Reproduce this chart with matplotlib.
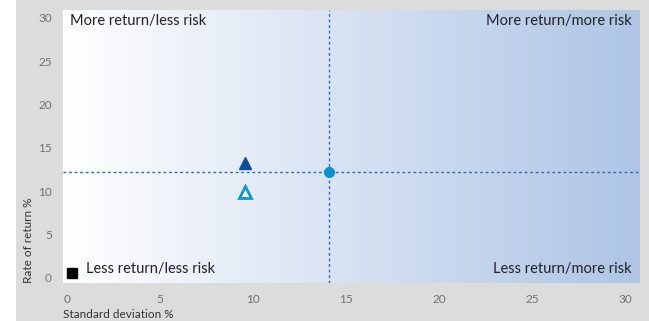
import numpy as np
import matplotlib
matplotlib.use('Agg')
import matplotlib.pyplot as plt
from matplotlib.colors import LinearSegmentedColormap
from matplotlib.patches import Rectangle

plt.rcParams['font.family'] = ['Lato', 'DejaVu Sans']

# data
fund_sd, fund_ret = 9.6, 13.2          # filled triangle
bench_sd, bench_ret = 9.6, 9.9         # hollow triangle
market_sd, market_ret = 14.1, 12.2     # circle / crosshair
cash_sd, cash_ret = 0.3, 0.6           # black square

xticks = [0, 5, 10, 15, 20, 25, 30]
yticks = [0, 5, 10, 15, 20, 25, 30]
corner_labels = ['More return/less risk', 'More return/more risk',
                 'Less return/less risk', 'Less return/more risk']

fig = plt.figure(figsize=(6.49, 3.21), dpi=100)
fig.patch.set_facecolor('white')
fig.patches.append(Rectangle((16 / 649, 0), 1, 1, transform=fig.transFigure,
                             facecolor='#dcdcdd', edgecolor='none', zorder=-10))

ax = fig.add_axes([63 / 649, 1 - 283 / 321, 577 / 649, 273 / 321])
xlim = (-0.2, 30.8)
ylim = (-0.6, 30.9)
ax.set_xlim(xlim)
ax.set_ylim(ylim)

# horizontal gradient background
cmap = LinearSegmentedColormap.from_list('bg', ['#ffffff', '#d6e1f2', '#aec5e5'])
grad = np.linspace(0, 1, 256).reshape(1, -1)
ax.imshow(grad, extent=[xlim[0], xlim[1], ylim[0], ylim[1]], aspect='auto',
          cmap=cmap, zorder=0)

for s in ax.spines.values():
    s.set_visible(False)

ax.axvline(market_sd, color='#2d6cb4', lw=1, ls=(0, (2, 2)), zorder=2)
ax.axhline(market_ret, color='#2d6cb4', lw=1, ls=(0, (2, 2)), zorder=2)

ax.plot(fund_sd, fund_ret, marker='^', ms=8, color='#0b4d9e', mec='#0b4d9e', zorder=3)
ax.plot(bench_sd, bench_ret, marker='^', ms=8, mfc='white', mec='#0a98d5', mew=2, zorder=3)
ax.plot(market_sd, market_ret, marker='o', ms=7, color='#0a8fd0', zorder=3)
ax.plot(cash_sd, cash_ret, marker='s', ms=7, color='black', zorder=3)

fs = 10.5
ax.text(0.012, 0.985, corner_labels[0], transform=ax.transAxes, ha='left', va='top',
        fontsize=fs, color='#222222')
ax.text(0.985, 0.985, corner_labels[1], transform=ax.transAxes, ha='right', va='top',
        fontsize=fs, color='#222222')
ax.text(0.04, 0.025, corner_labels[2], transform=ax.transAxes, ha='left', va='bottom',
        fontsize=fs, color='#222222')
ax.text(0.985, 0.025, corner_labels[3], transform=ax.transAxes, ha='right', va='bottom',
        fontsize=fs, color='#222222')

ax.set_xticks(xticks)
ax.set_yticks(yticks)
ax.tick_params(length=0, labelsize=8.5, labelcolor='#707070', pad=8)

fig.text(63 / 649, 1 - 314 / 321, 'Standard deviation %', ha='left', va='center',
         fontsize=8.5, color='#333333')
fig.text(29 / 649, 1 - 283 / 321, 'Rate of return %', ha='center', va='bottom',
         rotation=90, fontsize=8.5, color='#333333')

fig.savefig('out.png', dpi=100, facecolor=fig.get_facecolor())
